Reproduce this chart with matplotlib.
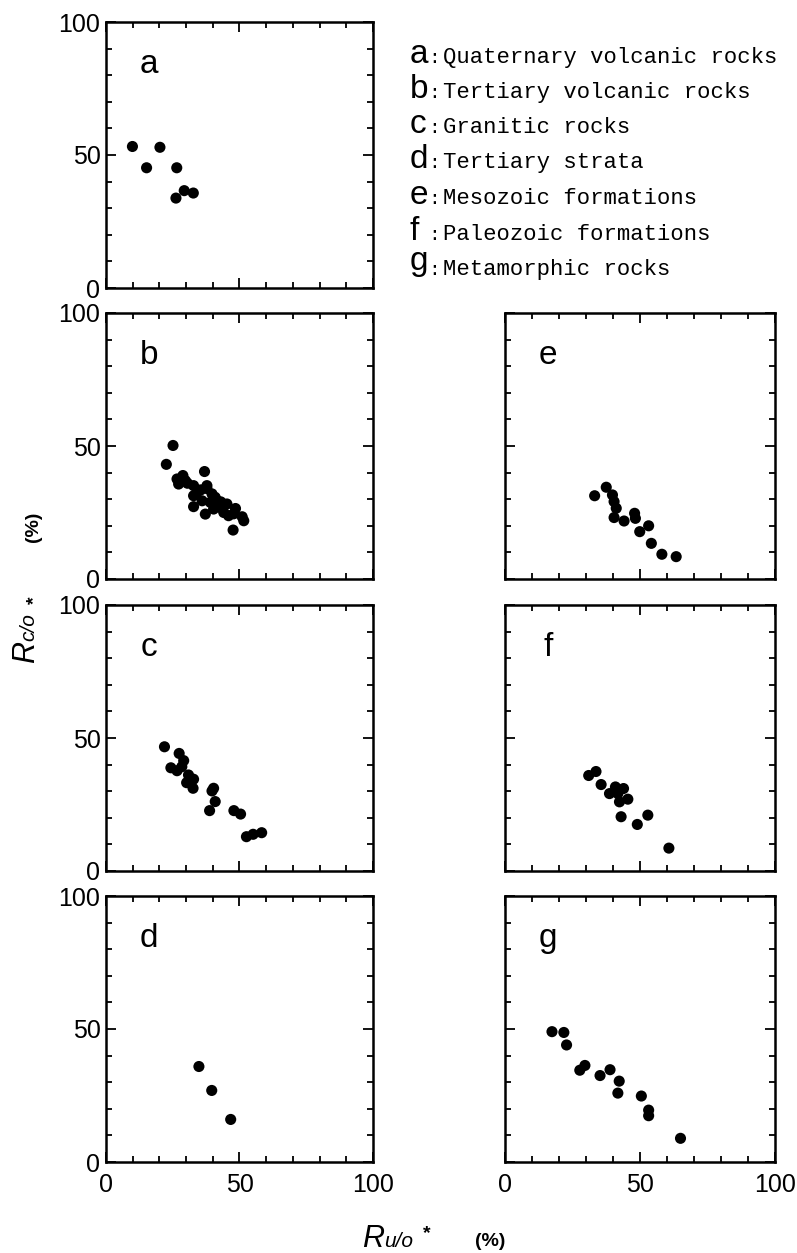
import matplotlib
matplotlib.use("Agg")
import matplotlib.pyplot as plt
from matplotlib.ticker import MultipleLocator

# Ru/o* (x, %) and Rc/o* (y, %) for each rock group
a_x = [9.9, 15.2, 20.2, 26.5, 26.2, 29.3, 32.7]
a_y = [53.2, 45.2, 52.9, 45.2, 33.8, 36.6, 35.7]

b_x = [25.1, 22.6, 36.9, 26.6, 28.8, 29.7, 27.2, 32.8, 34.1, 37.8, 32.8, 39.7,
       32.8, 37.2, 39.1, 41.6, 42.8, 45.3, 44.1, 45.9, 47.8, 51.6, 51.0, 47.6,
       40.3, 36.0, 40.9, 37.8, 30.5, 35.5, 43.0, 48.5]
b_y = [50.2, 43.1, 40.4, 37.6, 38.9, 37.0, 35.7, 35.1, 32.6, 35.1, 31.3, 32.0,
       27.2, 24.4, 28.8, 29.4, 26.9, 28.2, 25.0, 23.8, 24.5, 21.9, 23.4, 18.4,
       26.3, 29.4, 30.7, 34.0, 36.0, 33.5, 29.0, 26.5]

c_x = [21.9, 27.4, 29.1, 24.3, 26.6, 28.4, 30.9, 32.8, 30.2, 32.6, 40.3, 39.7,
       40.9, 38.8, 47.9, 50.4, 52.6, 55.1, 58.3]
c_y = [46.7, 44.2, 41.5, 38.8, 37.7, 39.2, 36.1, 34.5, 33.2, 31.1, 31.1, 30.1,
       26.1, 22.7, 22.7, 21.4, 12.9, 13.8, 14.4]

d_x = [34.8, 39.6, 46.7]
d_y = [35.9, 26.9, 16.0]

e_x = [33.2, 37.5, 39.8, 40.4, 41.2, 40.4, 44.1, 48.0, 48.3, 49.9, 53.2, 54.2,
       58.1, 63.4]
e_y = [31.3, 34.5, 31.6, 29.1, 26.6, 23.1, 21.8, 24.7, 22.8, 17.8, 20.0, 13.4,
       9.3, 8.4]

f_x = [31.0, 33.7, 35.6, 38.7, 40.9, 43.9, 42.4, 45.5, 43.0, 49.0, 52.9, 60.7,
       41.8]
f_y = [35.9, 37.4, 32.5, 29.1, 31.6, 31.0, 26.0, 27.0, 20.4, 17.5, 21.0, 8.6,
       29.1]

g_x = [17.4, 21.8, 22.8, 27.7, 29.6, 35.2, 38.9, 42.3, 41.8, 50.5, 53.2, 53.2,
       65.0]
g_y = [49.0, 48.7, 44.0, 34.5, 36.3, 32.5, 34.7, 30.4, 25.9, 24.8, 19.5, 17.4,
       8.9]

panel_letters = ["a", "b", "c", "d", "e", "f", "g"]
group_names = ["Quaternary volcanic rocks", "Tertiary volcanic rocks",
               "Granitic rocks", "Tertiary strata", "Mesozoic formations",
               "Paleozoic formations", "Metamorphic rocks"]
tick_values = [0, 50, 100]

SANS = ["Liberation Sans", "DejaVu Sans"]
MONO = ["Liberation Mono", "DejaVu Sans Mono"]

W, H = 797, 1253
fig = plt.figure(figsize=(W / 100, H / 100), dpi=100)


def fx(px):
    return px / W


def fy(py):
    return 1 - py / H


col_left = [106, 505]
col_width = [267, 270]
row_top = [22, 313, 605, 896]
row_h = 266

layout = {
    "a": (0, 0, a_x, a_y),
    "b": (0, 1, b_x, b_y),
    "c": (0, 2, c_x, c_y),
    "d": (0, 3, d_x, d_y),
    "e": (1, 1, e_x, e_y),
    "f": (1, 2, f_x, f_y),
    "g": (1, 3, g_x, g_y),
}

for letter, (col, row, xs, ys) in layout.items():
    x0 = col_left[col]
    y0 = row_top[row]
    ax = fig.add_axes([fx(x0), fy(y0 + row_h), col_width[col] / W, row_h / H])
    ax.scatter(xs, ys, s=64, color="black", edgecolors="none", zorder=3)
    ax.set_xlim(0, 100)
    ax.set_ylim(0, 100)
    ax.set_xticks(tick_values)
    ax.set_yticks(tick_values)
    ax.xaxis.set_minor_locator(MultipleLocator(10))
    ax.yaxis.set_minor_locator(MultipleLocator(10))
    ax.tick_params(which="both", direction="in", top=True, right=True,
                   width=1.3, color="black")
    ax.tick_params(which="major", length=7)
    ax.tick_params(which="minor", length=4)
    ax.tick_params(axis="y", pad=4)
    ax.tick_params(axis="x", pad=8)
    for sp in ax.spines.values():
        sp.set_linewidth(1.8)
    ax.set_xticklabels([str(v) for v in tick_values] if row == 3 else [])
    ax.set_yticklabels([str(v) for v in tick_values] if col == 0 else [])
    for lab in ax.get_xticklabels() + ax.get_yticklabels():
        lab.set_fontfamily(SANS)
        lab.set_fontsize(18)
    ax.text(16, 84, letter, fontsize=24, family=SANS,
            ha="center", va="center")

# group key in the upper right
baselines = [63, 98, 133, 168, 204, 240, 275]
for letter, name, yb in zip(panel_letters, group_names, baselines):
    shift = -5 if letter == "g" else 0
    fig.text(fx(410), fy(yb + shift), letter, fontsize=24, family=SANS,
             ha="left", va="baseline")
    fig.text(fx(428), fy(yb), ":", fontsize=14, family=MONO,
             ha="left", va="baseline")
    fig.text(fx(443), fy(yb), name, fontsize=16, family=MONO,
             ha="left", va="baseline")

# x-axis label: Ru/o* (%)
fig.text(fx(362), fy(1247), "R", fontsize=22, family=SANS, style="italic",
         ha="left", va="baseline")
fig.text(fx(384), fy(1247), "u/o", fontsize=15, family=SANS, style="italic",
         ha="left", va="baseline")
fig.text(fx(423), fy(1238), "*", fontsize=14, family=SANS,
         fontweight="bold", ha="left", va="baseline")
fig.text(fx(490), fy(1246), "(%)", fontsize=14, family=SANS,
         fontweight="bold", ha="center", va="baseline")

# y-axis label: Rc/o* (%)
fig.text(fx(34), fy(663), "R", fontsize=22, family=SANS, style="italic",
         rotation=90, ha="left", va="baseline", rotation_mode="anchor")
fig.text(fx(34), fy(641), "c/o", fontsize=15, family=SANS, style="italic",
         rotation=90, ha="left", va="baseline", rotation_mode="anchor")
fig.text(fx(39), fy(604), "*", fontsize=14, family=SANS,
         fontweight="bold", rotation=90, ha="left", va="baseline",
         rotation_mode="anchor")
fig.text(fx(38), fy(527), "(%)", fontsize=14, family=SANS,
         fontweight="bold", rotation=90, ha="center", va="baseline",
         rotation_mode="anchor")

fig.savefig("out.png", dpi=100)
